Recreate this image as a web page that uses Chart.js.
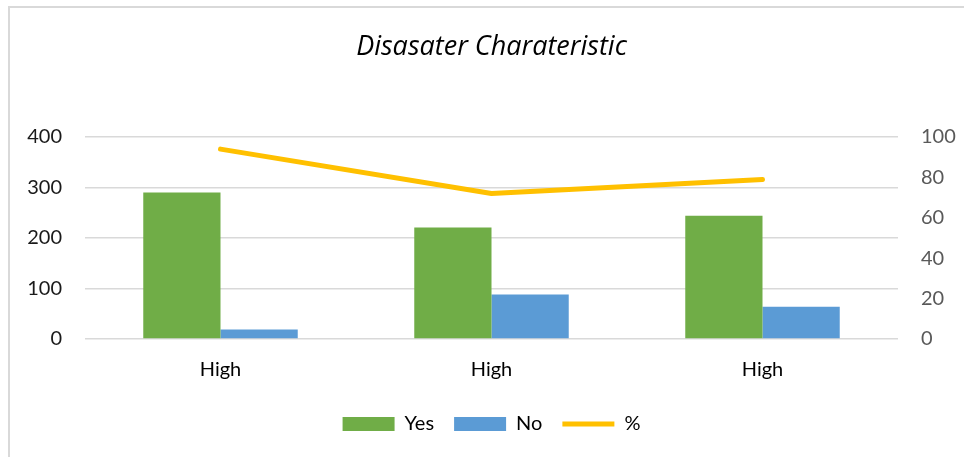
<!DOCTYPE html>
<html>
<head>
<meta charset="utf-8">
<script src="https://cdn.jsdelivr.net/npm/chart.js@4/dist/chart.umd.min.js"></script>
<style>
  html, body { margin: 0; padding: 0; background: #ffffff; }
  body { width: 964px; height: 457px; position: relative; overflow: hidden; }
  #frame {
    position: absolute; left: 8px; top: 6px; width: 1000px; height: 500px;
    border-top: 2px solid #D9D9D9; border-left: 2px solid #D9D9D9;
  }
  #wrap { position: absolute; left: 0; top: 0; width: 964px; height: 457px; }
</style>
</head>
<body>
<div id="frame"></div>
<div id="wrap"><canvas id="chart" width="964" height="457"></canvas></div>
<script>
// Chart data
const categories = ['High', 'High', 'High'];
const yesValues = [290, 221, 244];
const noValues = [19, 88, 64];
const percentValues = [94, 72, 79];
const leftTicks = [0, 100, 200, 300, 400];
const rightTicks = [0, 20, 40, 60, 80, 100];

const FONT = 'Lato, "Open Sans", "DejaVu Sans", sans-serif';
const TITLE_FONT = '"Open Sans", Lato, "DejaVu Sans", sans-serif';

new Chart(document.getElementById('chart'), {
  data: {
    labels: categories,
    datasets: [
      {
        type: 'bar', label: 'Yes', data: yesValues,
        backgroundColor: '#70AD47', borderWidth: 0,
        yAxisID: 'y', order: 2, pointStyle: 'rect'
      },
      {
        type: 'bar', label: 'No', data: noValues,
        backgroundColor: '#5B9BD5', borderWidth: 0,
        yAxisID: 'y', order: 2, pointStyle: 'rect'
      },
      {
        type: 'line', label: '%', data: percentValues,
        borderColor: '#FFC000', backgroundColor: '#FFC000',
        borderWidth: 5, borderCapStyle: 'round', borderJoinStyle: 'round',
        pointRadius: 0, pointHoverRadius: 0, tension: 0,
        yAxisID: 'y1', order: 1, pointStyle: 'line'
      }
    ]
  },
  options: {
    responsive: false,
    animation: false,
    events: [],
    layout: { padding: { left: 0, right: 0, top: 0, bottom: 13 } },
    datasets: {
      bar: { categoryPercentage: 0.57, barPercentage: 1.0 }
    },
    plugins: {
      title: {
        display: true,
        text: 'Disasater Charateristic',
        fullSize: false,
        color: '#000000',
        font: { family: TITLE_FONT, size: 27, style: 'italic', weight: 'normal' },
        padding: { top: 31, bottom: 73.6 }
      },
      legend: {
        display: true,
        position: 'bottom',
        fullSize: false,
        labels: {
          usePointStyle: true,
          pointStyleWidth: 52,
          boxHeight: 14,
          padding: 20,
          color: '#000000',
          font: { family: FONT, size: 20 },
          // keep the series order Yes, No, %
          sort: (a, b) => a.datasetIndex - b.datasetIndex
        }
      },
      tooltip: { enabled: false }
    },
    scales: {
      x: {
        type: 'category',
        grid: { display: false, drawTicks: false },
        border: { display: false },
        ticks: { color: '#000000', padding: 19, font: { family: FONT, size: 20 } },
        afterFit: (s) => { s.height = 55; }
      },
      y: {
        type: 'linear', position: 'left',
        min: leftTicks[0], max: leftTicks[leftTicks.length - 1],
        afterBuildTicks: (s) => { s.ticks = leftTicks.map(v => ({ value: v })); },
        grid: { color: '#D9D9D9', lineWidth: 1.5, drawTicks: false },
        border: { display: false },
        ticks: { color: '#1a1a1a', padding: 23, font: { family: FONT, size: 20 } },
        afterFit: (s) => { s.width = 85; }
      },
      y1: {
        type: 'linear', position: 'right',
        min: rightTicks[0], max: rightTicks[rightTicks.length - 1],
        afterBuildTicks: (s) => { s.ticks = rightTicks.map(v => ({ value: v })); },
        grid: { drawOnChartArea: false, drawTicks: false },
        border: { display: false },
        ticks: { color: '#595959', padding: 23, font: { family: FONT, size: 20 } },
        afterFit: (s) => { s.width = 66; }
      }
    }
  }
});
</script>
</body>
</html>
